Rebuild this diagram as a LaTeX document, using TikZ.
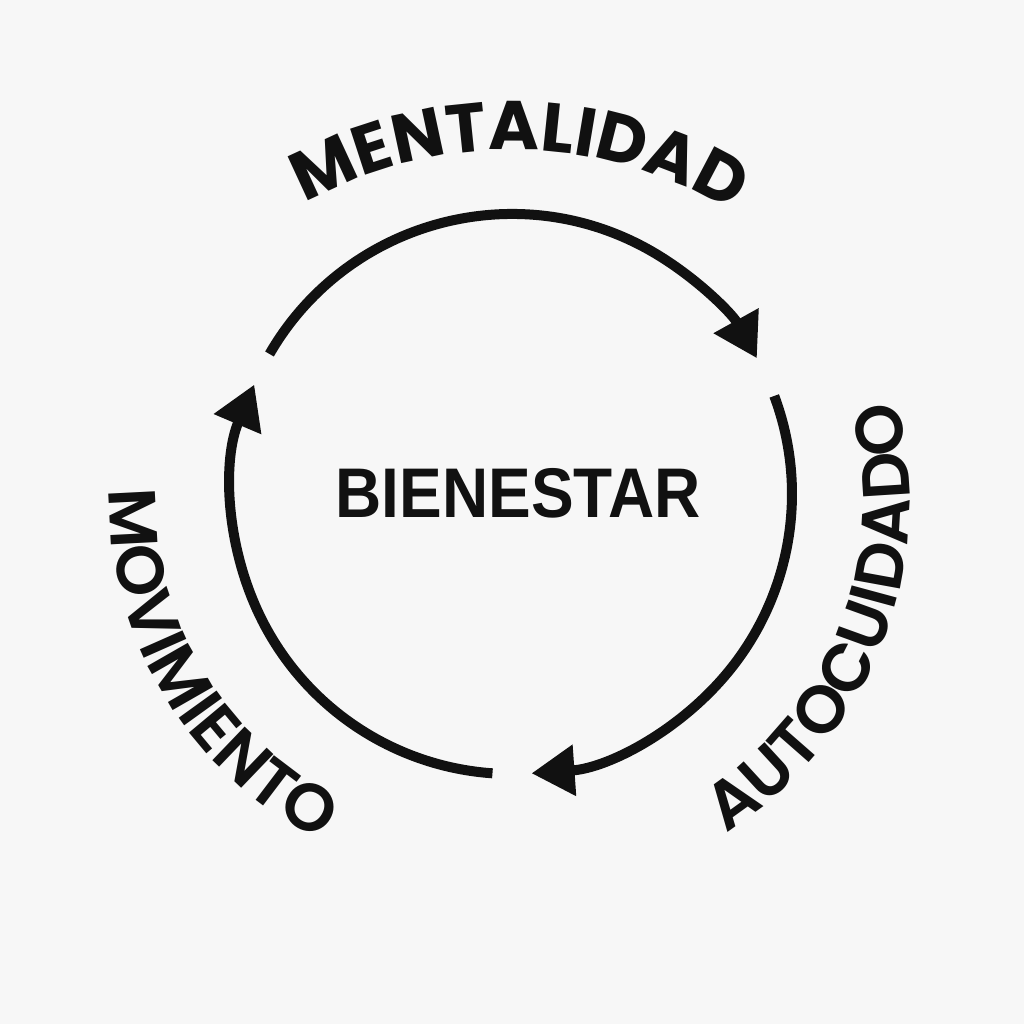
\documentclass[tikz,border=0pt]{standalone}
\usepackage{fontspec}
\usepackage{xcolor}
\usetikzlibrary{arrows.meta, decorations.text, calc}
\newfontfamily\hubfont{Liberation Sans}[FakeStretch=0.91]
\newfontfamily\ringfont{Poppins}
\newfontfamily\ringfontsemi{Poppins SemiBold}
\definecolor{C_BG}{HTML}{F7F7F7}
\definecolor{C_INK}{HTML}{111111}
\newcommand\topfmt{\color{C_INK}\ringfont\bfseries\fontsize{19.6pt}{23pt}\selectfont}
\newcommand\sidefmt{\color{C_INK}\ringfontsemi\fontsize{19pt}{22pt}\selectfont}

\begin{document}
\begin{tikzpicture}[
  cyc/.style={line width=1mm, color=C_INK, -{Triangle[length=4.3mm, width=4.9mm]}},
  ringtext/.style={decorate, decoration={text along path, text align=center, text={#1}}},
  hub/.style={inner sep=0pt, text=C_INK, font=\hubfont\bfseries\fontsize{20pt}{24pt}\selectfont},
]
%% Canvas
\fill[C_BG] (0,0) rectangle (10.24,10.24);
\useasboundingbox (0,0) rectangle (10.24,10.24);

%% Centre
\coordinate (ring) at (5.12,5.30);
\node[hub] (bienestar) at (5.18,5.31) {BIENESTAR};

%% Cycle arcs
\draw[cyc] ([shift={(150:2.8)}]ring) arc[start angle=150, end angle=29, radius=2.8];
\draw[cyc] ([shift={(20.5:2.8)}]ring) arc[start angle=20.5, end angle=-86, radius=2.8];
\draw[cyc] ([shift={(-94:2.8)}]ring) arc[start angle=-94, end angle=-203, radius=2.8];

%% Curved labels
\coordinate (topc) at (5.12,4.47);
\coordinate (rightc) at (5.17,5.24);
\coordinate (leftc) at (4.90,5.24);
\path[ringtext={|\topfmt|MENTALIDAD}]
  ([shift={(135:4.27)}]topc) arc[start angle=135, end angle=43, radius=4.27];
\path[ringtext={|\sidefmt|AUTOCUIDADO}]
  ([shift={(-75:3.93)}]rightc) arc[start angle=-75, end angle=32, radius=3.93];
\path[ringtext={|\sidefmt|MOVIMIENTO}]
  ([shift={(165:3.80)}]leftc) arc[start angle=165, end angle=257, radius=3.80];

\end{tikzpicture}
\end{document}
